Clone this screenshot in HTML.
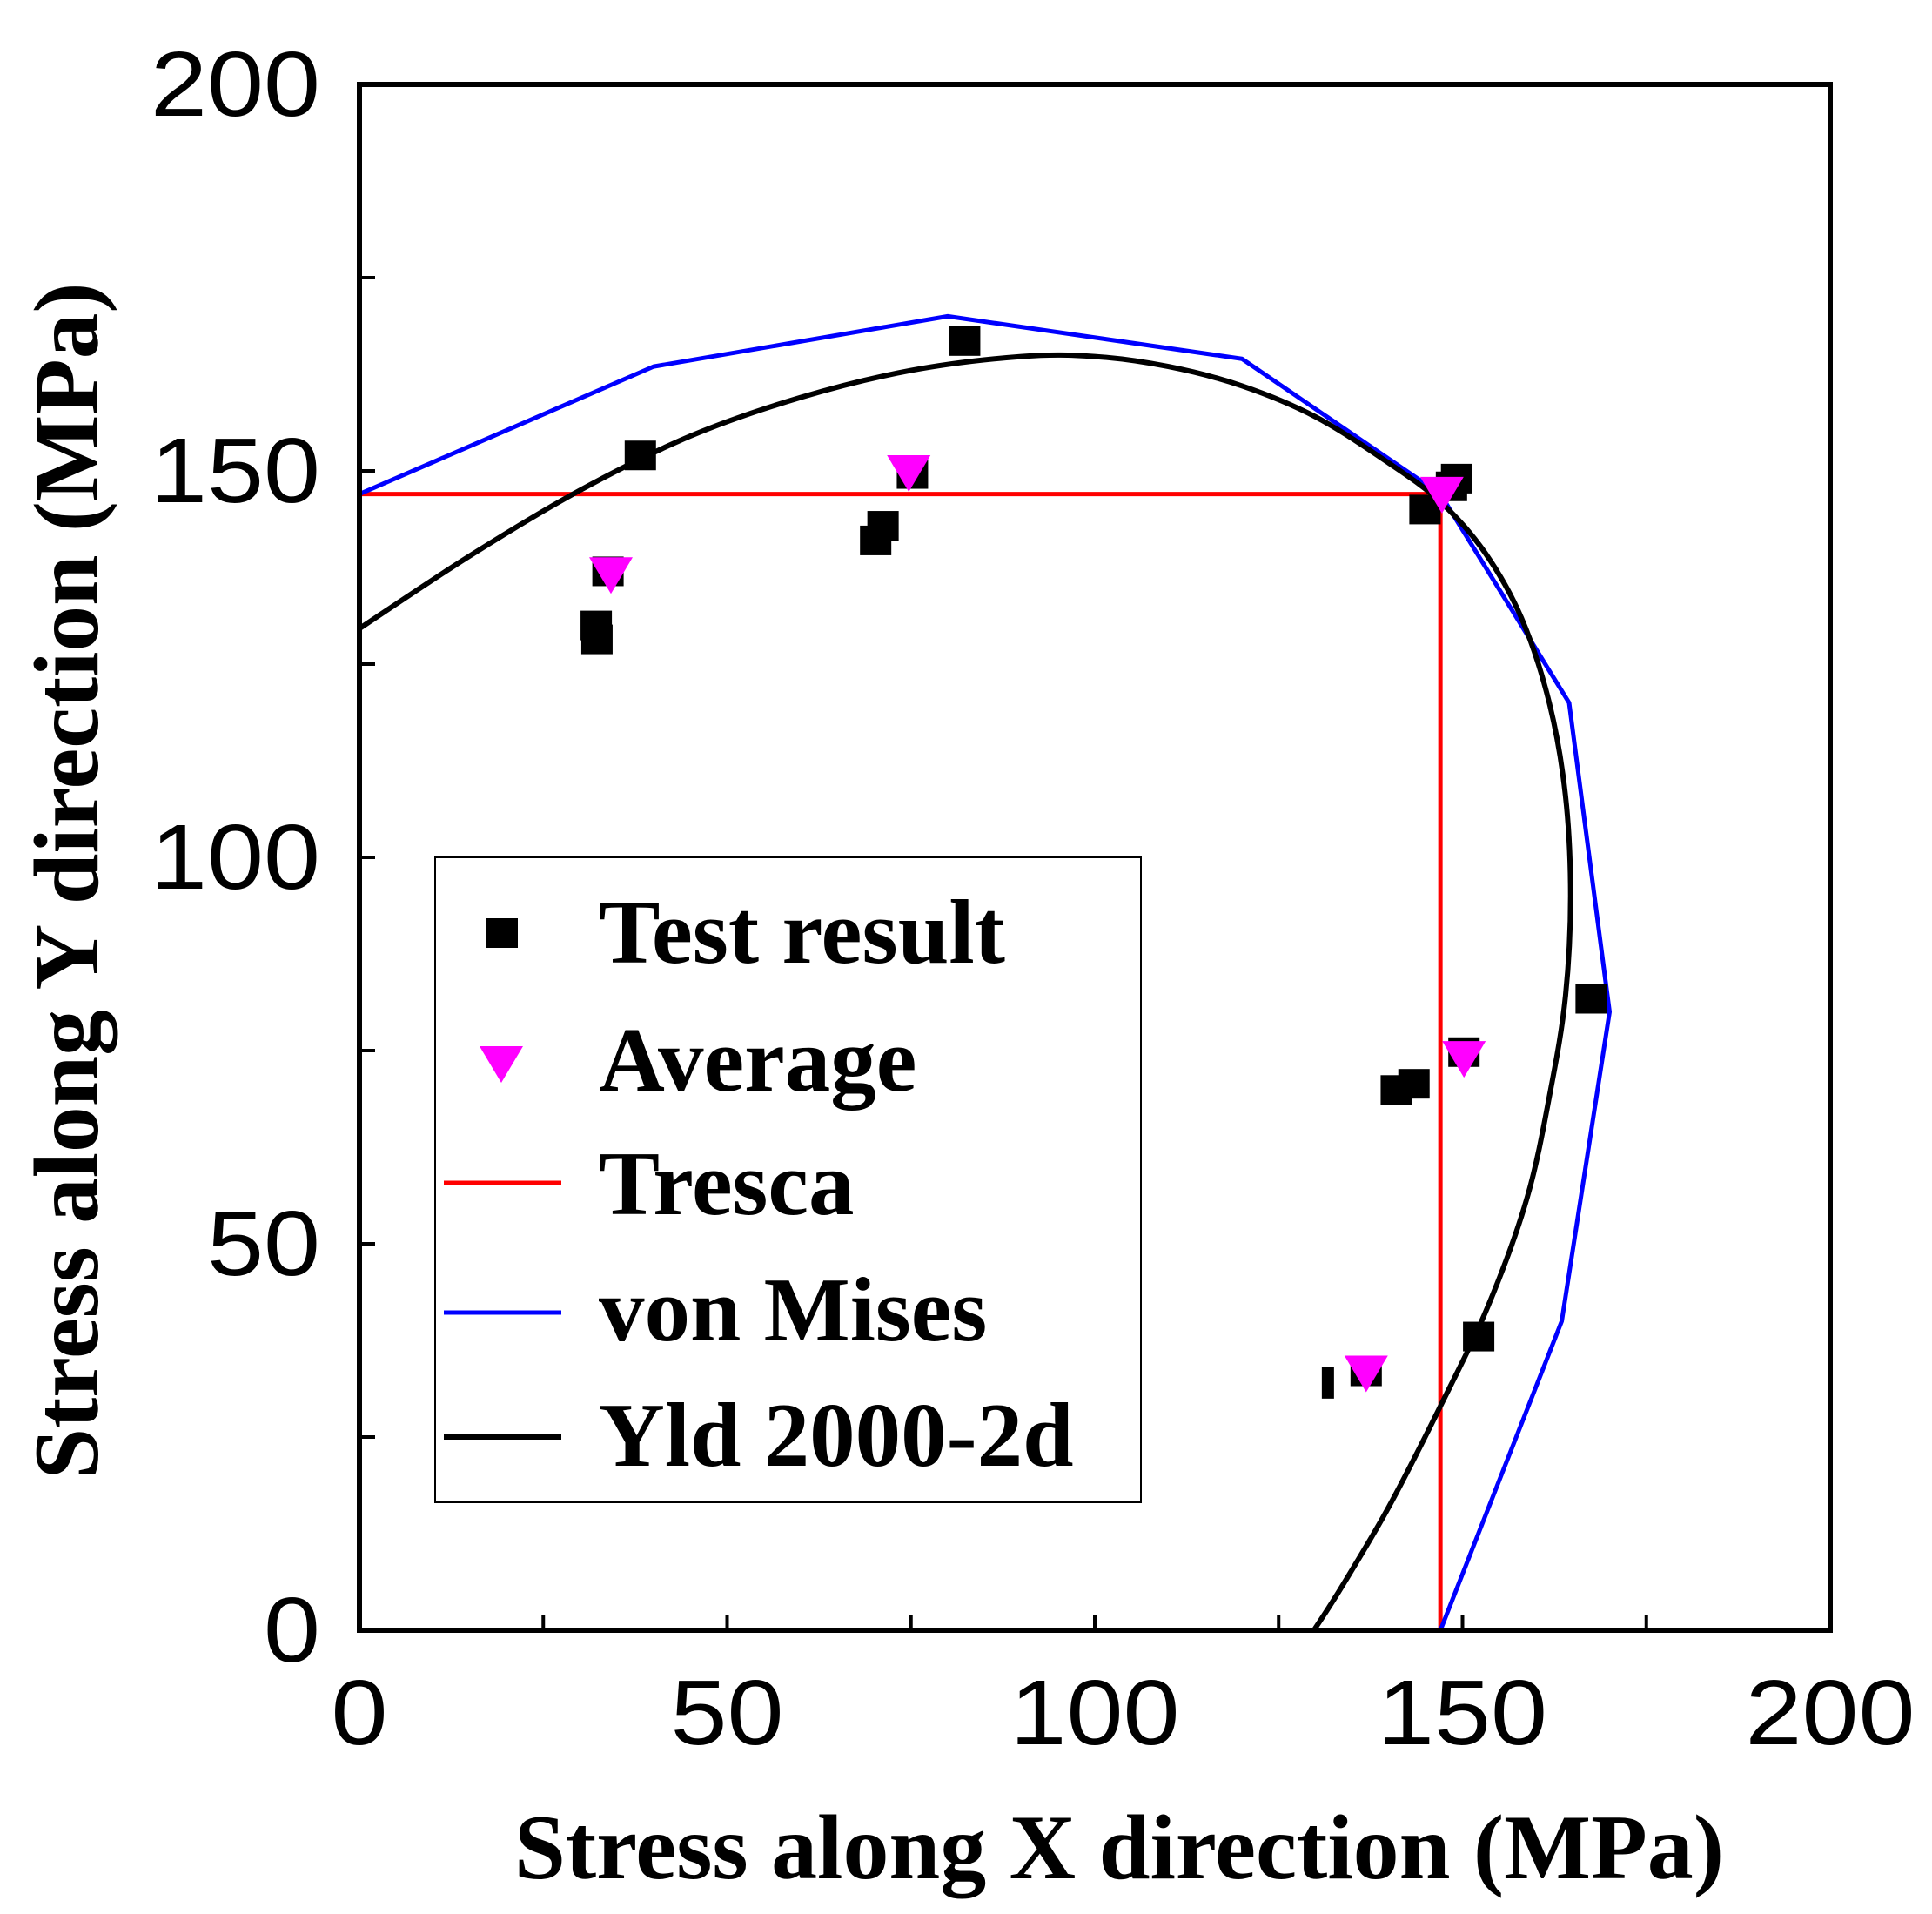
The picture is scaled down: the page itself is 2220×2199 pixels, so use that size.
<!DOCTYPE html>
<html><head><meta charset="utf-8"><style>
html,body{margin:0;padding:0;background:#fff;}
svg{display:block;}
.tick{font-family:"Liberation Sans",Arial,sans-serif;font-size:106px;fill:#000;}
.title{font-family:"Liberation Serif","Times New Roman",serif;font-weight:bold;font-size:106px;fill:#000;}
.leg{font-family:"Liberation Serif","Times New Roman",serif;font-weight:bold;font-size:105px;fill:#000;}
</style></head><body>
<svg id="chart" width="2220" height="2199" viewBox="0 0 2220 2199" xmlns="http://www.w3.org/2000/svg">
<g id="plot"></g>
<g id="legend">
  <rect x="500" y="985" width="811" height="741" fill="#fff" stroke="#000" stroke-width="2"/>
  <rect x="559" y="1055" width="36" height="34" fill="#000"/>
  <text class="leg" x="688" y="1106" textLength="467" lengthAdjust="spacingAndGlyphs">Test result</text>
  <polygon points="551,1202 601,1202 576,1244" fill="#ff00ff"/>
  <text class="leg" x="688" y="1253">Average</text>
  <line x1="510" y1="1359" x2="645" y2="1359" stroke="#ff0000" stroke-width="5"/>
  <text class="leg" x="688" y="1395">Tresca</text>
  <line x1="510" y1="1508" x2="645" y2="1508" stroke="#0000ff" stroke-width="5"/>
  <text class="leg" x="688" y="1540">von Mises</text>
  <line x1="510" y1="1651" x2="645" y2="1651" stroke="#000" stroke-width="6"/>
  <text class="leg" x="688" y="1684">Yld 2000-2d</text>
</g>
<text class="title" x="1286" y="2158" text-anchor="middle" textLength="1390" lengthAdjust="spacingAndGlyphs">Stress along X direction (MPa)</text>
<text class="title" transform="translate(112,1012) rotate(-90)" text-anchor="middle" textLength="1375" lengthAdjust="spacingAndGlyphs">Stress along Y direction (MPa)</text>
</svg>
<script>
const testX=[82.3,38.2,33.8,32.2,32.3,70.2,71.2,75.2,144.9,149.2,148.5,167.5,141,143.4,150.2,152.2,136.9];
const testY=[166.8,152,137,130,128.2,141,142.9,149.6,145,149,148,81.7,69.9,70.7,74.8,38,33.5];
const fragX=[131.7];
const fragY=[32];
const avgX=[34.2,74.7,147.2,150.2,136.9];
const avgY=[136.8,150,147.2,74.2,33.5];
const trescaX=[0,147,147];
const trescaY=[147,147,0];
const misesX=[0,40,80,120,147,164.5,170,163.5,147];
const misesY=[147,163.5,170,164.5,147,120,80,40,0];
const yldX=[0,15,30,45,60,75,90,100,110,120,130,140,147,153,158,161.8,164,164.7,164,162,158.8,153.5,147,140,133.5,129.8];
const yldY=[129.6,139,147.5,154.5,159.5,163,164.8,164.8,163.5,161,157,151,146,139.5,131,120,108,95,82,70,56,42,29,16,5.5,0];
const xTicks=[0,50,100,150,200];
const yTicks=[0,50,100,150,200];

const X0=413,X1=2103,Y0=1873,Y1=97;
const sx=v=>X0+(X1-X0)*v/200;
const sy=v=>Y0-(Y0-Y1)*v/200;
const NS="http://www.w3.org/2000/svg";
const plot=document.getElementById('plot');
function mk(tag,attrs){const e=document.createElementNS(NS,tag);for(const k in attrs)e.setAttribute(k,attrs[k]);return e;}

const defs=mk('defs',{});const cp=mk('clipPath',{id:'clip'});
cp.appendChild(mk('rect',{x:X0,y:Y1,width:X1-X0,height:Y0-Y1}));defs.appendChild(cp);plot.appendChild(defs);

function line(xs,ys,color,w,name){
  const p=mk('polyline',{points:xs.map((x,i)=>sx(x)+','+sy(ys[i])).join(' '),fill:'none',stroke:color,'stroke-width':w,'stroke-linejoin':'round','clip-path':'url(#clip)'});
  
  
  plot.appendChild(p);
}
function smooth(xs,ys,color,w,name){
  const P=xs.map((x,i)=>[sx(x),sy(ys[i])]);
  let d='M'+P[0][0]+','+P[0][1];
  for(let i=0;i<P.length-1;i++){
    const p0=P[Math.max(i-1,0)],p1=P[i],p2=P[i+1],p3=P[Math.min(i+2,P.length-1)];
    const c1=[p1[0]+(p2[0]-p0[0])/6,p1[1]+(p2[1]-p0[1])/6];
    const c2=[p2[0]-(p3[0]-p1[0])/6,p2[1]-(p3[1]-p1[1])/6];
    d+=' C'+c1[0]+','+c1[1]+' '+c2[0]+','+c2[1]+' '+p2[0]+','+p2[1];
  }
  const p=mk('path',{d:d,fill:'none',stroke:color,'stroke-width':w,'clip-path':'url(#clip)'});
  
  
  plot.appendChild(p);
}
line(trescaX,trescaY,'#ff0000',5,'tresca-line');
line(misesX,misesY,'#0000ff',5,'von-mises-line');
smooth(yldX,yldY,'#000',6,'yld2000-curve');

testX.forEach((x,i)=>{
  const r=mk('rect',{x:sx(x)-18,y:sy(testY[i])-17,width:36,height:34,fill:'#000'});
  
  
  plot.appendChild(r);
});
fragX.forEach((x,i)=>{
  const r=mk('rect',{x:sx(x)-7,y:sy(fragY[i])-18,width:14,height:36,fill:'#000'});
  
  
  plot.appendChild(r);
});
avgX.forEach((x,i)=>{
  const cx=sx(x),cy=sy(avgY[i]);
  const t=mk('polygon',{points:(cx-25)+','+(cy-18)+' '+(cx+25)+','+(cy-18)+' '+cx+','+(cy+24),fill:'#ff00ff'});
  
  
  plot.appendChild(t);
});

const fr=mk('rect',{x:X0,y:Y1,width:X1-X0,height:Y0-Y1,fill:'none',stroke:'#000','stroke-width':6});


plot.appendChild(fr);

for(let v=0;v<=200;v+=25){
  const tx=mk('line',{x1:sx(v),x2:sx(v),y1:Y0,y2:Y0-18,stroke:'#000','stroke-width':4});
  
  
  plot.appendChild(tx);
  const ty=mk('line',{x1:X0,x2:X0+18,y1:sy(v),y2:sy(v),stroke:'#000','stroke-width':4});
  
  
  plot.appendChild(ty);
}
xTicks.forEach(v=>{
  const s=String(v);
  const t=mk('text',{x:sx(v),y:2004,'text-anchor':'middle',class:'tick',textLength:65*s.length,lengthAdjust:'spacingAndGlyphs'});t.textContent=s;
  
  
  plot.appendChild(t);
});
yTicks.forEach(v=>{
  const s=String(v);
  const t=mk('text',{x:368,y:sy(v)+36,'text-anchor':'end',class:'tick',textLength:65*s.length,lengthAdjust:'spacingAndGlyphs'});t.textContent=s;
  
  
  plot.appendChild(t);
});
</script>
</body></html>
